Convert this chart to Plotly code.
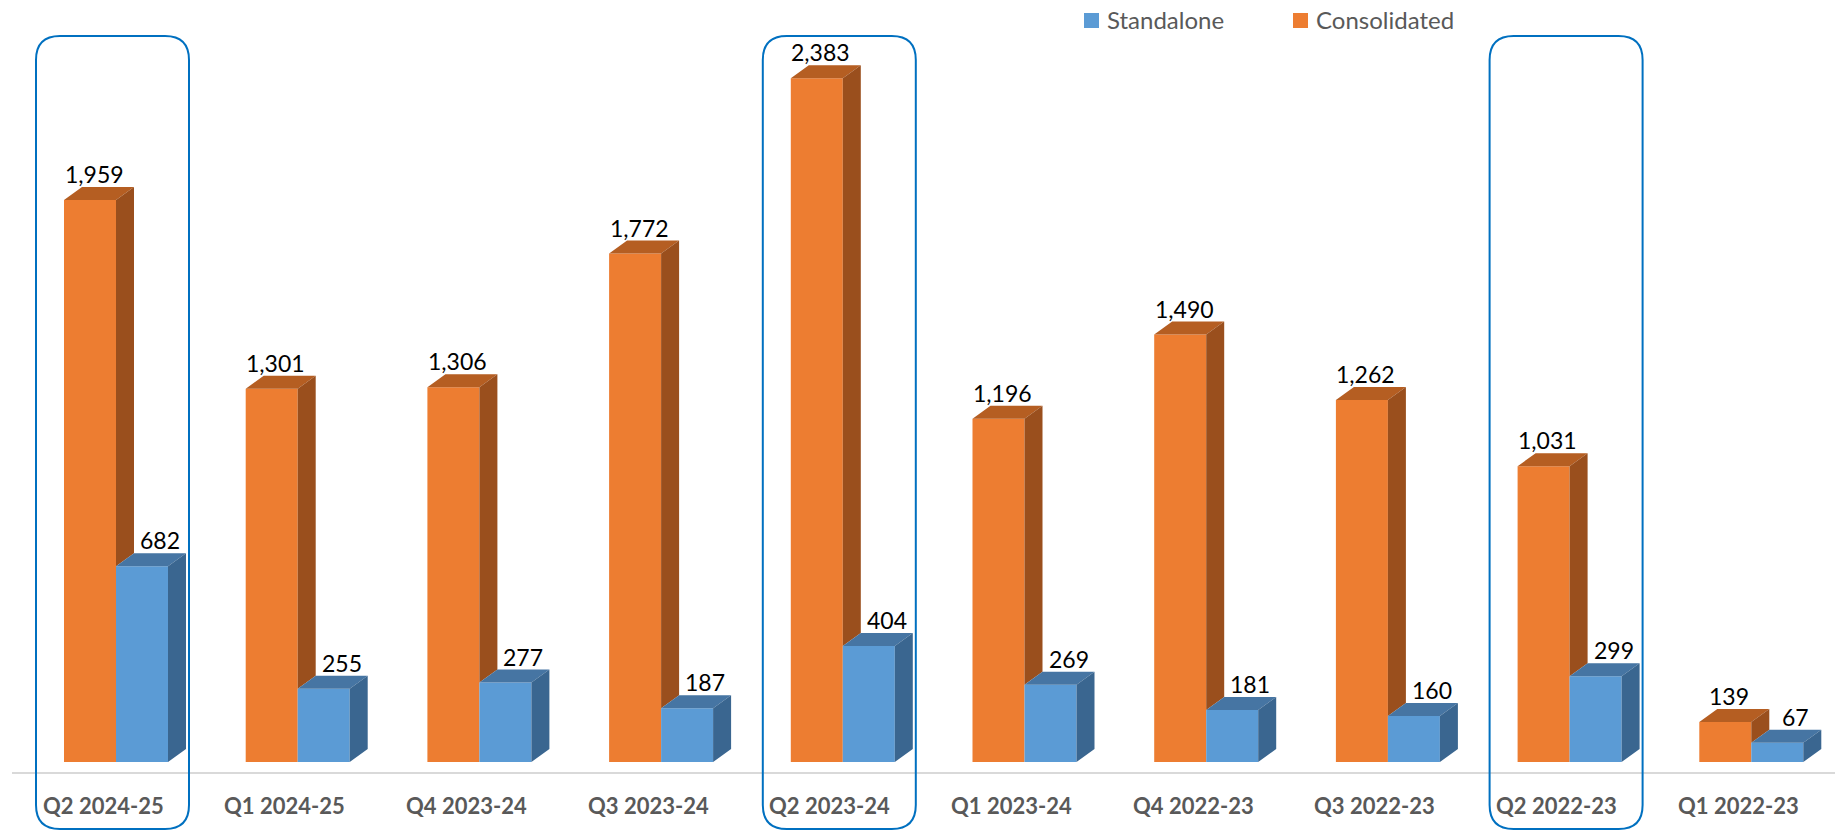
import plotly.graph_objects as go

# ---- data ----
categories = ["Q2 2024-25", "Q1 2024-25", "Q4 2023-24", "Q3 2023-24", "Q2 2023-24",
              "Q1 2023-24", "Q4 2022-23", "Q3 2022-23", "Q2 2022-23", "Q1 2022-23"]
consolidated = [1959, 1301, 1306, 1772, 2383, 1196, 1490, 1262, 1031, 139]
standalone = [682, 255, 277, 187, 404, 269, 181, 160, 299, 67]
highlighted = ["Q2 2024-25", "Q2 2023-24", "Q2 2022-23"]
series_names = ["Standalone", "Consolidated"]

# ---- styling / geometry ----
W, H = 1835, 830
PX_PER_CAT = 181.7          # pixels per category step
PX_PER_UNIT = 0.2869        # pixels per value unit
X0_PX, Y0_PX = 116, 762     # pixel position of category 0 / value 0
XR = [(0 - X0_PX) / PX_PER_CAT, (W - X0_PX) / PX_PER_CAT]
YR = [(Y0_PX - H) / PX_PER_UNIT, Y0_PX / PX_PER_UNIT]

def px_x(p):
    return p / PX_PER_CAT

def px_y(p):
    return p / PX_PER_UNIT

bw = px_x(52)     # bar width
dx = px_x(18)     # 3D depth x
dy = px_y(13)     # 3D depth y

OR_FRONT, OR_TOP, OR_SIDE = "#ED7D31", "#B55E22", "#9A4F1D"
BL_FRONT, BL_TOP, BL_SIDE = "#5B9BD5", "#4675A3", "#3A6690"
FONT = "Lato, 'Open Sans', sans-serif"

xs = list(range(len(categories)))

fig = go.Figure()

# front faces as bars
fig.add_trace(go.Bar(x=xs, y=consolidated, width=bw, offset=-bw, name="Consolidated",
                     marker=dict(color=OR_FRONT, line=dict(width=0)), hoverinfo="skip"))
fig.add_trace(go.Bar(x=xs, y=standalone, width=bw, offset=0, name="Standalone",
                     marker=dict(color=BL_FRONT, line=dict(width=0)), hoverinfo="skip"))

def poly_trace(xpts, ypts, color):
    return go.Scatter(x=xpts, y=ypts, mode="lines", fill="toself", fillcolor=color,
                      line=dict(width=0, color=color), hoverinfo="skip", showlegend=False)

# orange top & visible side
ot_x, ot_y, os_x, os_y = [], [], [], []
for i, (v, vb) in enumerate(zip(consolidated, standalone)):
    x0, x1 = i - bw, i
    ot_x += [x0, x0 + dx, x1 + dx, x1, x0, None]
    ot_y += [v, v + dy, v + dy, v, v, None]
    os_x += [x1, x1, x1 + dx, x1 + dx, x1, None]
    os_y += [vb, v, v + dy, vb + dy, vb, None]
fig.add_trace(poly_trace(ot_x, ot_y, OR_TOP))
fig.add_trace(poly_trace(os_x, os_y, OR_SIDE))

# blue top & side
bt_x, bt_y, bs_x, bs_y = [], [], [], []
for i, v in enumerate(standalone):
    x0, x1 = i, i + bw
    bt_x += [x0, x0 + dx, x1 + dx, x1, x0, None]
    bt_y += [v, v + dy, v + dy, v, v, None]
    bs_x += [x1, x1, x1 + dx, x1 + dx, x1, None]
    bs_y += [0, v, v + dy, dy, 0, None]
fig.add_trace(poly_trace(bt_x, bt_y, BL_TOP))
fig.add_trace(poly_trace(bs_x, bs_y, BL_SIDE))

annotations = []
# data labels
for i, (v, vb) in enumerate(zip(consolidated, standalone)):
    annotations.append(dict(x=i - bw / 2, y=v + dy, text=f"{v:,}", showarrow=False,
                            xanchor="center", yanchor="bottom", xshift=4, yshift=-3,
                            font=dict(family=FONT, size=23, color="#000000")))
    annotations.append(dict(x=i + bw / 2, y=vb + dy, text=f"{vb:,}", showarrow=False,
                            xanchor="center", yanchor="bottom", xshift=18, yshift=-3,
                            font=dict(family=FONT, size=23, color="#000000")))
# category labels
for i, c in enumerate(categories):
    annotations.append(dict(x=i, y=1 - 805 / H, yref="paper", text=f"<b>{c}</b>",
                            showarrow=False, xanchor="center", yanchor="middle", xshift=-13,
                            font=dict(family=FONT, size=22, color="#595959")))

shapes = []
# axis line
shapes.append(dict(type="line", xref="x", yref="y", x0=-px_x(104), x1=len(categories) - 1 + px_x(1714 - 1453),
                   y0=-px_y(11), y1=-px_y(11), line=dict(color="#D9D9D9", width=2), layer="below"))

# rounded highlight boxes
r_x, r_y = px_x(24), px_y(24)
top_y, bot_y = px_y(Y0_PX - 36), -px_y(829 - Y0_PX)
for c in highlighted:
    i = categories.index(c)
    L, R = i - px_x(80), i + px_x(73)
    path = (f"M {L + r_x},{top_y} L {R - r_x},{top_y} Q {R},{top_y} {R},{top_y - r_y} "
            f"L {R},{bot_y + r_y} Q {R},{bot_y} {R - r_x},{bot_y} "
            f"L {L + r_x},{bot_y} Q {L},{bot_y} {L},{bot_y + r_y} "
            f"L {L},{top_y - r_y} Q {L},{top_y} {L + r_x},{top_y} Z")
    shapes.append(dict(type="path", xref="x", yref="y", path=path,
                       line=dict(color="#0070C0", width=2), fillcolor="rgba(0,0,0,0)"))

# manual legend
legend_items = [(series_names[0], BL_FRONT, 1084), (series_names[1], OR_FRONT, 1293)]
for name, col, xp in legend_items:
    shapes.append(dict(type="rect", xref="paper", yref="paper",
                       x0=xp / W, x1=(xp + 15) / W, y0=1 - 28 / H, y1=1 - 13 / H,
                       fillcolor=col, line=dict(width=0)))
    annotations.append(dict(x=(xp + 21) / W, y=1 - 20 / H, xref="paper", yref="paper",
                            text=name, showarrow=False, xanchor="left", yanchor="middle",
                            font=dict(family=FONT, size=24, color="#595959")))

fig.update_layout(
    width=W, height=H, margin=dict(l=0, r=0, t=0, b=0),
    paper_bgcolor="white", plot_bgcolor="white",
    barmode="overlay", showlegend=False,
    xaxis=dict(range=XR, visible=False, fixedrange=True),
    yaxis=dict(range=YR, visible=False, fixedrange=True),
    annotations=annotations, shapes=shapes,
)

fig.write_html("out.html", config={"displayModeBar": False},
               post_script="document.body.style.margin='0px';document.body.style.overflow='hidden';")
